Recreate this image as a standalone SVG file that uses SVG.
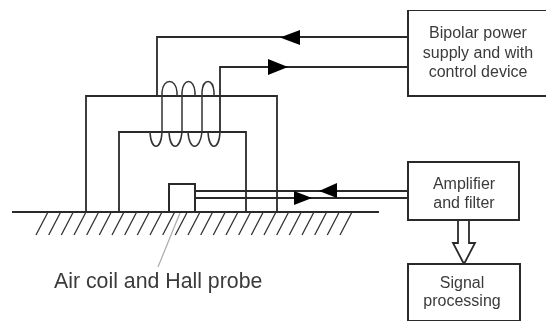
<svg xmlns="http://www.w3.org/2000/svg" width="546" height="323" viewBox="0 0 546 323">
<style>
.l{fill:none;stroke:#2a2a2a;stroke-width:1.8}
.c{fill:none;stroke:#333;stroke-width:1.5}
.h{fill:none;stroke:#333;stroke-width:1.3}
.b{fill:#fff;stroke:#2a2a2a;stroke-width:2}
.a{fill:#000;stroke:none}
.t{font-family:"Liberation Sans",Arial,sans-serif;font-size:16px;fill:#3a3a3a;text-anchor:middle}
</style>
<defs><filter id="s" x="0" y="0" width="100%" height="100%"><feGaussianBlur stdDeviation="0.45"/></filter></defs>
<rect width="546" height="323" fill="#fff"/>
<g filter="url(#s)">
<g id="core">
<path class="l" d="M86 212V96H277V212M119 212V132H246V212"/>
<path class="l" d="M12 212H379"/>
</g>
<g id="hatch"><path class="h" d="M48 212L36 235M60.700 212L48.700 235M73.300 212L61.300 235M86 212L74 235M98.700 212L86.700 235M111.300 212L99.300 235M124 212L112 235M136.700 212L124.700 235M149.300 212L137.300 235M162 212L150 235M174.700 212L162.700 235M187.300 212L175.300 235M200 212L188 235M212.700 212L200.700 235M225.300 212L213.300 235M238 212L226 235M250.700 212L238.700 235M263.300 212L251.300 235M276 212L264 235M288.700 212L276.700 235M301.300 212L289.300 235M314 212L302 235M326.700 212L314.700 235M339.300 212L327.300 235M352 212L340 235"/></g>
<g id="coil">
<path class="c" d="M150 132C151 151 161 151 162 132V92C163 78 176 78 177 92V96M169 132C170 151 180 151 182 132V92C183 78 194 78 195 92V96M188 132C189 151 200 151 202 132V92C203 78 213 78 214 92V96M208 132C209 151 219 151 220 132"/>
</g>
<g id="connectors">
<path class="l" d="M157 96V37H408M220 132V67H408M195 191H408M195 198H408"/>
<path class="a" d="M280 37.500L300 30V45ZM288 67L268 59V75ZM319 191L337 183V198ZM312 198L294 191V205Z"/>
<path fill="none" stroke="#aaa" stroke-width="1.2" d="M182 208L158 267"/>
<path class="l" d="M458 220V243H453L464 264L475 243H469V220"/>
</g>
<g id="probe"><rect class="b" x="169" y="184" width="26" height="28"/></g>
<g id="power"><rect class="b" x="408" y="10" width="145" height="86"/>
<text class="t" x="478" y="38">Bipolar power</text><text class="t" x="478" y="58">supply and with</text><text class="t" x="478" y="77">control device</text></g>
<g id="amp"><rect class="b" x="408" y="162" width="111" height="58"/>
<text class="t" x="464" y="189">Amplifier</text><text class="t" x="464" y="208">and filter</text></g>
<g id="sig"><rect class="b" x="408" y="264" width="112" height="57"/>
<text class="t" x="462" y="288">Signal</text><text class="t" x="462" y="306">processing</text></g>
<text id="label" x="54" y="288" font-family="Liberation Sans, Arial, sans-serif" font-size="21.300" fill="#3a3a3a">Air coil and Hall probe</text>
</g>
</svg>
